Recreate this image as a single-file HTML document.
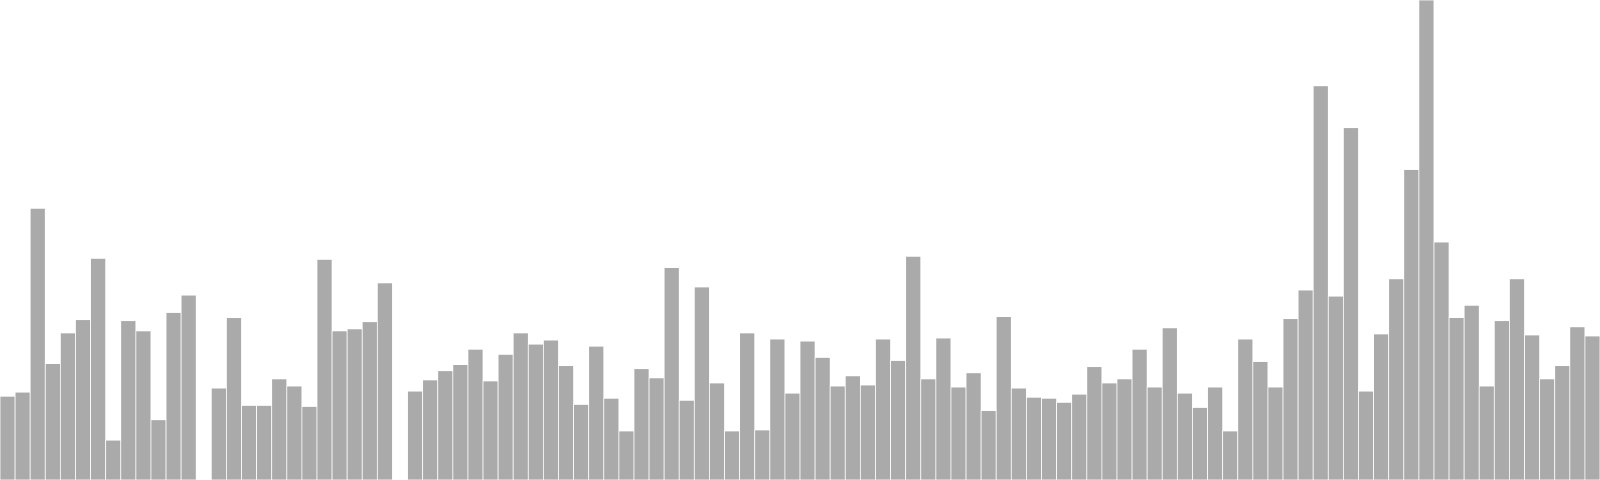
<!DOCTYPE html>
<html><head><meta charset="utf-8"><style>
html,body{margin:0;padding:0;background:#fff;}
svg{display:block;}
</style></head><body>
<svg id="chart" width="1600" height="480" viewBox="0 0 1600 480" xmlns="http://www.w3.org/2000/svg"></svg>
<script>
const values = [82,86,266,114,144,157,217,39,156,146,59,164,181,0,90,159,73,73,99,92,72,216,146,148,155,193,0,87,98,107,113,128,97,123,144,133,137,112,74,131,80,48,109,100,208,78,189,95,48,144,49,138,85,136,120,92,102,93,138,117,219,99,139,91,105,68,160,90,81,80,76,84,111,95,99,128,91,149,85,71,91,48,138,116,91,158,186,386,180,345,87,143,197,304,470,233,159,171,92,156,197,142,99,112,150,141];
const categories = values.map((v,i)=>'item-'+(i+1));
const yMax = 470;
const baseY = 480, plotH = 480, slot = 1600/values.length;
const svg = document.getElementById('chart');
function xScale(i){return i*slot;}
function yScale(v){return baseY - v/yMax*plotH;}
values.forEach((v,i)=>{
  if(v<=0) return;
  const r = document.createElementNS('http://www.w3.org/2000/svg','rect');
  
  
  r.setAttribute('x', xScale(i));
  r.setAttribute('y', yScale(v));
  r.setAttribute('width', slot);
  r.setAttribute('height', baseY - yScale(v));
  r.setAttribute('fill', '#aaaaaa');
  r.setAttribute('stroke', '#ffffff');
  r.setAttribute('stroke-width', '0.8');
  const t = document.createElementNS('http://www.w3.org/2000/svg','title');
  t.textContent = categories[i]+': '+v;
  r.appendChild(t);
  svg.appendChild(r);
});
</script>
</body></html>
